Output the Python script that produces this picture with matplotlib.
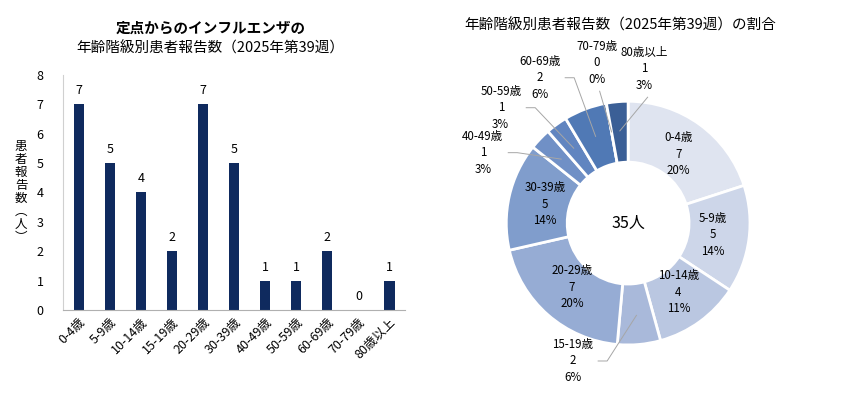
import matplotlib
matplotlib.use("Agg")
import matplotlib.pyplot as plt
import numpy as np

plt.rcParams['font.family'] = ['Noto Sans CJK JP', 'DejaVu Sans']

# data
age_groups = ['0-4歳', '5-9歳', '10-14歳', '15-19歳', '20-29歳', '30-39歳',
              '40-49歳', '50-59歳', '60-69歳', '70-79歳', '80歳以上']
patients = [7, 5, 4, 2, 7, 5, 1, 1, 2, 0, 1]
total_label = '35人'

bar_title_1 = '定点からのインフルエンザの'
bar_title_2 = '年齢階級別患者報告数（2025年第39週）'
pie_title = '年齢階級別患者報告数（2025年第39週）の割合'
y_label = '患\n者\n報\n告\n数\n︵\n人\n︶'

bar_color = '#0f2a5e'
pie_colors = ['#dfe4f0', '#cdd6e9', '#bac7e1', '#a9b9da', '#96acd4', '#809dcc',
              '#7090c6', '#6185c0', '#5079b5', '#45689f', '#3b5f96']

# layout of the labels that sit outside the ring (data units of the pie axes)
outside_pos = {
    3: (-0.37, -0.92, 'right'),
    6: (-0.97, 0.47, 'right'),
    7: (-0.85, 0.77, 'right'),
    8: (-0.59, 0.97, 'right'),
    9: (-0.21, 1.07, 'up'),
    10: (0.11, 1.03, 'up'),
}

fig = plt.figure(figsize=(8.42, 4.09), dpi=100)

# ---- bar chart ----
ax = fig.add_axes([0.075, 0.242, 0.406, 0.575])
x = np.arange(len(age_groups))
ax.bar(x, patients, width=0.33, color=bar_color, zorder=2)
for xi, v in zip(x, patients):
    ax.annotate(str(v), (xi, v), xytext=(0, 5), textcoords='offset points',
                ha='center', va='bottom', fontsize=9)
ax.set_xlim(-0.5, len(age_groups) - 0.5)
ax.set_ylim(0, 8)
ax.set_yticks(range(0, 9))
ax.set_xticks(x)
ax.set_xticklabels(age_groups, rotation=45, ha='right', rotation_mode='anchor',
                   fontsize=9)
ax.tick_params(axis='both', length=0, labelsize=9)
ax.tick_params(axis='y', pad=14)
ax.tick_params(axis='x', pad=4)
for s in ['top', 'right']:
    ax.spines[s].set_visible(False)
ax.spines['left'].set_color('#d0d0d0')
ax.spines['bottom'].set_color('#b0b0b0')
fig.text(0.025, 0.53, y_label, ha='center', va='center', fontsize=9,
         linespacing=1.0)
fig.text(0.25, 0.933, bar_title_1, ha='center', va='center', fontsize=10.5,
         fontweight='bold')
fig.text(0.25, 0.882, bar_title_2, ha='center', va='center', fontsize=10.5)

# ---- donut chart ----
pax = fig.add_axes([0.568, 0.088, 0.356, 0.733])
R = 0.813
wedges, _ = pax.pie(patients, colors=pie_colors, startangle=90, counterclock=False,
                    radius=R, wedgeprops=dict(width=R * 0.5, edgecolor='white',
                                              linewidth=2))
pax.set_xlim(-1, 1)
pax.set_ylim(-1, 1)
pax.set_aspect('equal')
pax.axis('off')

total = sum(patients)
for i, (w, name, v) in enumerate(zip(wedges, age_groups, patients)):
    mid = np.deg2rad((w.theta1 + w.theta2) / 2)
    pct = round(v / total * 100)
    txt = f'{name}\n{v}\n{pct}%'
    if i in outside_pos:
        tx, ty, side = outside_pos[i]
        ax_r = R * 0.76
        axx, axy = ax_r * np.cos(mid), ax_r * np.sin(mid)
        pax.text(tx, ty, txt, ha='center', va='center', fontsize=8.3,
                 linespacing=1.35)
        if side == 'right':
            sx, sy = tx + 0.17, ty
            pax.plot([sx, sx + 0.06, axx], [sy, sy, axy], color='#a6a6a6',
                     lw=0.7)
        else:
            sx, sy = tx + 0.02, ty - 0.19
            pax.plot([sx, axx], [sy, axy], color='#a6a6a6', lw=0.7)
    else:
        r = R * 0.7
        pax.text(r * np.cos(mid), r * np.sin(mid), txt, ha='center', va='center',
                 fontsize=8.3, linespacing=1.35)
pax.text(0, 0, total_label, ha='center', va='center', fontsize=11.5)
fig.text(0.737, 0.937, pie_title, ha='center', va='center', fontsize=10.5)

fig.savefig('out.png', dpi=100)
